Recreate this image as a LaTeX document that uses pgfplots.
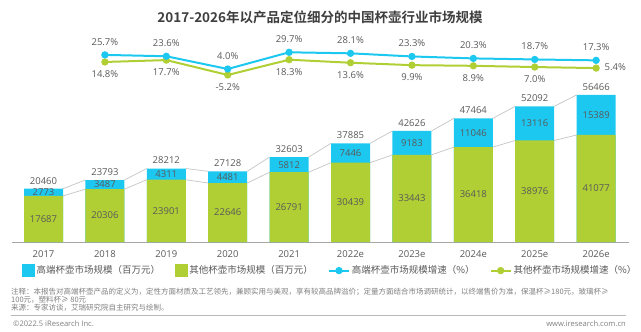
\documentclass[border=0pt]{standalone}
\usepackage{fontspec}
\usepackage{pgfplots}
\usepackage{pgfplotstable}
\pgfplotsset{compat=1.18}
\setmainfont{Open Sans}
\newfontfamily\cjk{Noto Sans CJK SC}[BoldFont={Noto Sans CJK SC Bold}]
\definecolor{cBlue}{HTML}{1DC8F0}
\definecolor{cGreen}{HTML}{B0CF34}
\definecolor{cText}{HTML}{595959}
\definecolor{cTitle}{HTML}{3F3F3F}
\definecolor{cNote}{HTML}{7F7F7F}
\definecolor{cAxis}{HTML}{A6A6A6}
\definecolor{cConn}{HTML}{C4C4C4}

\pgfplotsset{
  linelegend/.style={legend image code/.code={\draw[mark repeat=2, mark phase=2, ##1] plot coordinates {(0bp,0bp) (10bp,0bp) (20bp,0bp)};}},
}

\pgfplotstableread{
x g b t
0 17687 2773 20460
1 20306 3487 23793
2 23901 4311 28212
3 22646 4481 27128
4 26791 5812 32603
5 30439 7446 37885
6 33443 9183 42626
7 36418 11046 47464
8 38976 13116 52092
9 41077 15389 56466
}\bars

\pgfplotstableread{
x hb ob
1 25.7 14.8
2 23.6 17.7
3 4.0 -5.2
4 29.7 18.3
5 28.1 13.6
6 23.3 9.9
7 20.3 8.9
8 18.7 7.0
9 17.3 5.4
}\rates

\newcommand{\lblfont}{\fontsize{9.5bp}{11bp}\selectfont}

\begin{document}
\begin{tikzpicture}
\path[use as bounding box] (0,0) rectangle (641bp,-332bp);

% title
\node[font=\cjk\bfseries\fontsize{13.5bp}{16bp}\selectfont, text=cTitle] at (320bp,-17bp) {2017-2026年以产品定位细分的中国杯壶行业市场规模};

% bar axis
\begin{axis}[
  at={(12bp,-242bp)}, anchor=south west,
  scale only axis, width=617bp, height=156.3bp,
  xmin=-0.513, xmax=9.535, ymin=0, ymax=60000,
  axis x line*=bottom, axis y line=none, ytick=\empty,
  x axis line style={draw=cAxis, line width=0.8bp},
  xtick={0,...,9},
  xticklabels={2017,2018,2019,2020,2021,2022e,2023e,2024e,2025e,2026e},
  xtick style={draw=none}, major tick length=0pt,
  xticklabel style={font=\lblfont, text=cText, yshift=-5.5bp},
  clip=false,
  legend columns=4,
  legend cell align=left,
  legend style={at={(0.0162,-0.183)}, anchor=west, draw=none, fill=none,
    inner sep=0pt, font=\cjk\lblfont, text=cText,
    /tikz/every even column/.append style={column sep=13bp}},
]
\addlegendimage{legend image code/.code={\fill[cBlue] (0bp,-6bp) rectangle (12bp,6bp);}}
\addlegendentry{高端杯壶市场规模（百万元）}
\addlegendimage{legend image code/.code={\fill[cGreen] (0bp,-6bp) rectangle (12bp,6bp);}}
\addlegendentry{其他杯壶市场规模（百万元）}
\addlegendimage{cBlue, line width=2bp, mark=*, mark size=2.6bp, linelegend}
\addlegendentry{高端杯壶市场规模增速（\%）}
\addlegendimage{cGreen, line width=2bp, mark=*, mark size=2.6bp, linelegend}
\addlegendentry{其他杯壶市场规模增速（\%）}

% connectors
\addplot[cConn, line width=0.7bp, unbounded coords=jump, forget plot] coordinates {
 (0.318,20460) (0.682,23793) (nan,nan)
 (1.318,23793) (1.682,28212) (nan,nan)
 (2.318,28212) (2.682,27128) (nan,nan)
 (3.318,27128) (3.682,32603) (nan,nan)
 (4.318,32603) (4.682,37885) (nan,nan)
 (5.318,37885) (5.682,42626) (nan,nan)
 (6.318,42626) (6.682,47464) (nan,nan)
 (7.318,47464) (7.682,52092) (nan,nan)
 (8.318,52092) (8.682,56466) (nan,nan)
 (0.318,17687) (0.682,20306) (nan,nan)
 (1.318,20306) (1.682,23901) (nan,nan)
 (2.318,23901) (2.682,22646) (nan,nan)
 (3.318,22646) (3.682,26791) (nan,nan)
 (4.318,26791) (4.682,30439) (nan,nan)
 (5.318,30439) (5.682,33443) (nan,nan)
 (6.318,33443) (6.682,36418) (nan,nan)
 (7.318,36418) (7.682,38976) (nan,nan)
 (8.318,38976) (8.682,41077)
};

% bars: blue total, then green over it
\addplot[ybar, bar width=39bp, bar shift=0pt, fill=cBlue, draw=none, forget plot]
  table[x=x, y=t]{\bars};
\addplot[ybar, bar width=39bp, bar shift=0pt, fill=cGreen, draw=none, forget plot]
  table[x=x, y=g]{\bars};

% labels
\addplot[draw=none, mark=none, forget plot,
  nodes near coords, point meta=explicit symbolic,
  every node near coord/.append style={anchor=center, font=\lblfont, text=cText}]
  table[x=x, y expr=\thisrow{g}/2, meta=g]{\bars};
\addplot[draw=none, mark=none, forget plot,
  nodes near coords, point meta=explicit symbolic,
  every node near coord/.append style={anchor=center, font=\lblfont, text=cText}]
  table[x=x, y expr=\thisrow{g}+\thisrow{b}/2, meta=b]{\bars};
\addplot[draw=none, mark=none, forget plot,
  nodes near coords, point meta=explicit symbolic,
  every node near coord/.append style={anchor=south, yshift=1bp, font=\lblfont, text=cText}]
  table[x=x, y=t, meta=t]{\bars};
\end{axis}

% growth-rate axis
\begin{axis}[
  at={(12bp,-78.1bp)}, anchor=south west,
  scale only axis, width=617bp, height=29.25bp,
  xmin=-0.513, xmax=9.535, ymin=-10, ymax=35,
  hide axis, clip=false,
]
\addplot[cGreen, line width=2bp, mark=*, mark size=2.6bp, mark options={solid}]
  table[x=x, y=ob]{\rates};
\addplot[cBlue, line width=2bp, mark=*, mark size=2.6bp, mark options={solid},
  nodes near coords={\pgfplotspointmeta\%}, point meta=explicit symbolic,
  every node near coord/.append style={anchor=south, yshift=5bp, font=\lblfont, text=cText}]
  table[x=x, y=hb, meta=hb]{\rates};
\addplot[draw=none, mark=none,
  restrict x to domain=1:8,
  nodes near coords={\pgfplotspointmeta\%}, point meta=explicit symbolic,
  every node near coord/.append style={anchor=north, yshift=-5bp, font=\lblfont, text=cText}]
  table[x=x, y=ob, meta=ob]{\rates};
\addplot[draw=none, mark=none,
  restrict x to domain=9:9,
  nodes near coords={\pgfplotspointmeta\%}, point meta=explicit symbolic,
  every node near coord/.append style={anchor=west, xshift=5bp, yshift=0.5bp, font=\lblfont, text=cText}]
  table[x=x, y=ob, meta=ob]{\rates};
\end{axis}

% notes and footer
\begin{scope}[every node/.style={anchor=west, inner sep=0pt, text=cNote, font=\cjk\fontsize{7.5bp}{9bp}\selectfont}]
\node at (11bp,-291.7bp) {注释：本报告对高端杯壶产品的定义为，定性方面材质及工艺领先，兼顾实用与美观，享有较高品牌溢价；定量方面结合市场调研统计，以终端售价为准，保温杯≥180元，玻璃杯≥};
\node at (11bp,-299.5bp) {100元，塑料杯≥ 80元};
\node at (11bp,-308bp) {来源：专家访谈，艾瑞研究院自主研究与绘制。};
\end{scope}
\draw[cAxis!80, line width=0.8bp] (11bp,-315.7bp) -- (626bp,-315.7bp);
\node[anchor=west, inner sep=0pt, text=cNote, font=\fontsize{7.6bp}{9bp}\selectfont] at (13bp,-323.7bp) {©2022.5 iResearch Inc.};
\node[anchor=east, inner sep=0pt, text=cNote, font=\fontsize{7.6bp}{9bp}\selectfont] at (626bp,-323.7bp) {www.iresearch.com.cn};
\end{tikzpicture}
\end{document}
